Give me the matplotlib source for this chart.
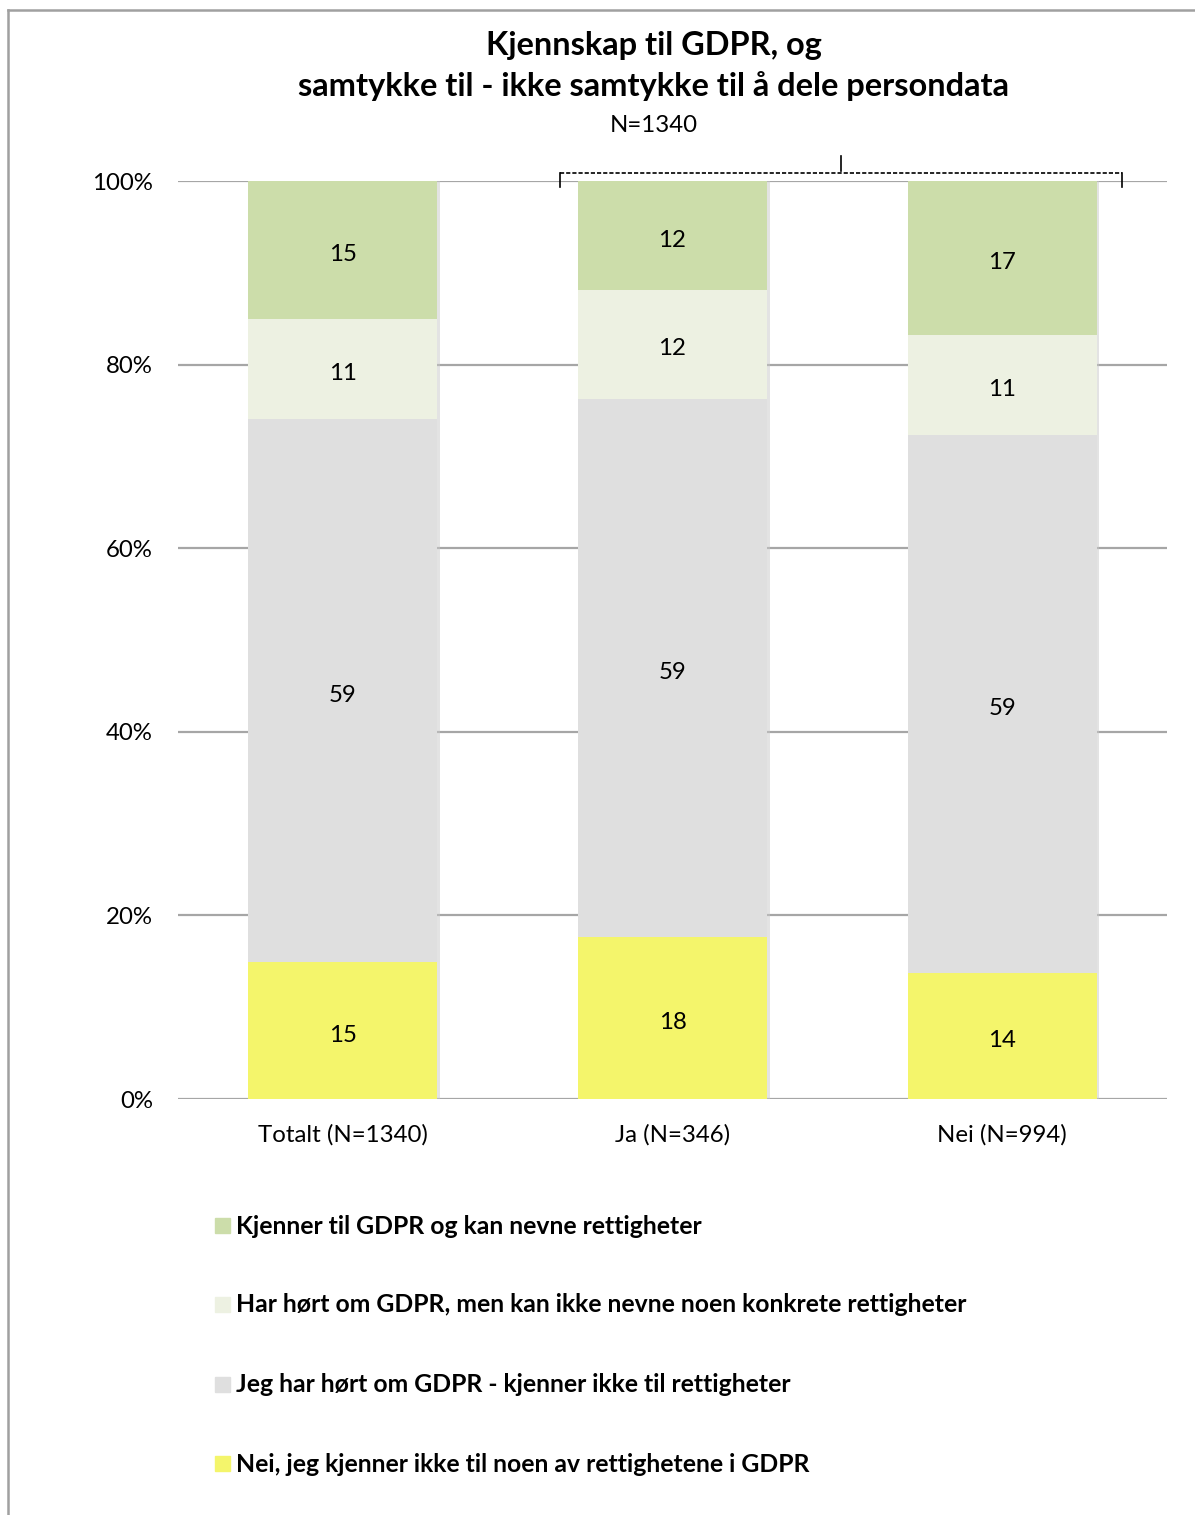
import numpy as np
import matplotlib
matplotlib.use('Agg')
import matplotlib.pyplot as plt
from matplotlib.patches import Rectangle
from matplotlib.lines import Line2D

plt.rcParams['font.family'] = ['Lato', 'DejaVu Sans']

# data
categories = ['Totalt (N=1340)', 'Ja (N=346)', 'Nei (N=994)']
series_names = [
    'Nei, jeg kjenner ikke til noen av rettighetene i GDPR',
    'Jeg har hørt om GDPR - kjenner ikke til rettigheter',
    'Har hørt om GDPR, men kan ikke nevne noen konkrete rettigheter',
    'Kjenner til GDPR og kan nevne rettigheter',
]
nei_kjenner = [14.9, 17.7, 13.7]
hort_ikke_rett = [59.2, 58.6, 58.6]
hort_ikke_nevne = [10.9, 11.8, 10.9]
kjenner_nevne = [15.0, 11.9, 16.8]
series = [nei_kjenner, hort_ikke_rett, hort_ikke_nevne, kjenner_nevne]
colors = ['#F4F56B', '#DFDFDF', '#EDF1E2', '#CCDDAA']

fig = plt.figure(figsize=(11.95, 15.15), dpi=100)
ax = fig.add_axes([178/1195, 1 - 1099/1515, (1167-178)/1195, (1099-181)/1515])

x = np.arange(len(categories))
bottom = np.zeros(len(categories))
w = 0.573
for vals, col in zip(series, colors):
    vals = np.array(vals)
    # shadow
    ax.bar(x + 0.008, vals, w, bottom=bottom, color='#c8c8c8', alpha=0.5, zorder=2)
    ax.bar(x, vals, w, bottom=bottom, color=col, zorder=3)
    for xi, b, v in zip(x, bottom, vals):
        ax.text(xi, b + v / 2 - 0.5, f'{round(v):d}', ha='center', va='center',
                fontsize=17.3, zorder=4)
    bottom += vals

ax.set_xlim(-0.5, 2.5)
ax.set_ylim(0, 100)
ax.set_yticks(np.arange(0, 101, 20))
ax.set_yticklabels([f'{v}%' for v in range(0, 101, 20)], fontsize=17.3)
ax.set_xticks(x)
ax.set_xticklabels(categories, fontsize=17.3)
ax.tick_params(length=0)
ax.tick_params(axis='y', pad=18)
ax.tick_params(axis='x', pad=18)
ax.yaxis.grid(True, color='#A6A6A6', linewidth=1.6, zorder=0)
ax.set_axisbelow(True)
for s in ax.spines.values():
    s.set_visible(False)

# bracket over Ja / Nei
bx0, bx1, bxc = 0.658, 2.364, 1.512
ax.plot([bx0, bx1], [100.9, 100.9], color='black', linestyle=(0, (2.5, 1.2)),
        linewidth=1.2, clip_on=False, zorder=5)
ax.plot([bx0, bx0], [100.9, 99.3], color='black', linewidth=1.2, clip_on=False, zorder=5)
ax.plot([bx1, bx1], [100.9, 99.3], color='black', linewidth=1.2, clip_on=False, zorder=5)
ax.plot([bxc, bxc], [101.1, 102.7], color='black', linewidth=1.2, clip_on=False, zorder=5)

# titles
fig.text(654/1195, 1 - 46/1515, 'Kjennskap til GDPR, og', ha='center', va='center',
         fontsize=23.4, fontweight='bold')
fig.text(654/1195, 1 - 86/1515, 'samtykke til - ikke samtykke til å dele persondata',
         ha='center', va='center', fontsize=23.4, fontweight='bold')
fig.text(654/1195, 1 - 126/1515, 'N=1340', ha='center', va='center', fontsize=17.3)

# legend (top to bottom)
leg_y = [1226, 1305, 1385, 1464]
for yy, name, col in zip(leg_y, series_names[::-1], colors[::-1]):
    fig.patches.append(Rectangle((215/1195, 1 - (yy + 7)/1515), 15/1195, 15/1515,
                                 transform=fig.transFigure, color=col))
    fig.text(236/1195, 1 - yy/1515, name, ha='left', va='center', fontsize=17.8,
             fontweight='bold')

# outer frame
fig.add_artist(Line2D([8/1195, 1], [1 - 10/1515, 1 - 10/1515], color='#A0A0A0',
                      linewidth=1.8, transform=fig.transFigure))
fig.add_artist(Line2D([8/1195, 8/1195], [1 - 10/1515, 0], color='#A0A0A0',
                      linewidth=1.8, transform=fig.transFigure))

fig.savefig('out.png', dpi=100)
